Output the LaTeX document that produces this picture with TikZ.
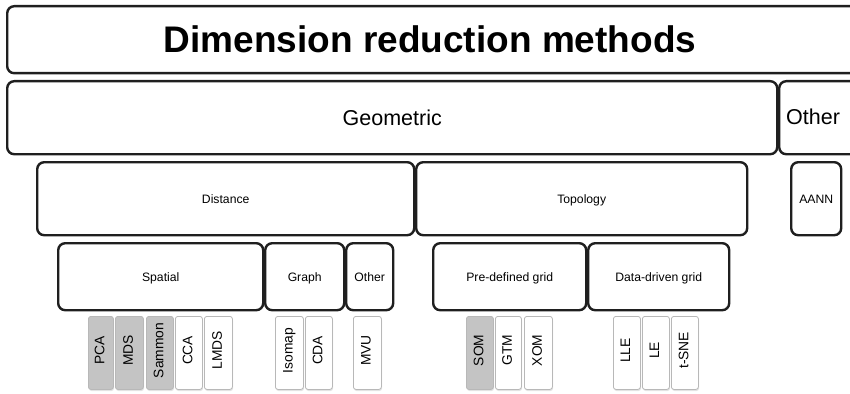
\documentclass[tikz,border=0pt]{standalone}
\usepackage{fontspec}
\setmainfont{Liberation Sans}
\usetikzlibrary{shadows}
\tikzset{
  bigbox/.style={draw=black!88, line width=2.4pt, rounded corners=7pt, fill=white,
    anchor=north west, inner sep=0pt, align=center, text depth=0pt},
  meth/.style={draw=black!28, line width=0.8pt, rounded corners=2.5pt, fill=white,
    anchor=north west, inner sep=0pt, minimum height=73pt,
    drop shadow={opacity=0.22, shadow xshift=0.6pt, shadow yshift=-1.6pt},
    font=\fontsize{13.8}{15}\selectfont},
  methg/.style={meth, fill=black!23},
  lvlA/.style={font=\fontsize{21.5}{24}\selectfont, text height=15.4pt, text depth=0pt},
  lvlB/.style={font=\fontsize{12.2}{14}\selectfont, text height=8.8pt, text depth=0pt},
}
\newcommand{\vt}[1]{\rotatebox{90}{\kern5pt\vphantom{Ap}#1}}
\begin{document}
\begin{tikzpicture}[x=1pt,y=-1pt]
\useasboundingbox (0,0) rectangle (850,393);
\clip (0,0) rectangle (850,393);
% level 0
\node[bigbox, minimum width=870pt, minimum height=67pt] (title) at (6,5) {};
\node[font=\fontsize{37}{40}\selectfont\bfseries] (titletext) at (430,39) {Dimension reduction methods};
% level 1
\node[bigbox, lvlA, minimum width=770pt, minimum height=73pt] (geom) at (6,80) {Geometric};
\node[bigbox, minimum width=90pt, minimum height=73pt] (other) at (778,80) {};
\node[lvlA, anchor=west, inner sep=0pt] (othertext) at (786,116.5) {Other};
% level 2
\node[bigbox, lvlB, minimum width=377pt, minimum height=73pt] (dist) at (36,161) {Distance};
\node[bigbox, lvlB, minimum width=331pt, minimum height=73pt] (topo) at (415,161) {Topology};
\node[bigbox, lvlB, minimum width=50pt, minimum height=73pt] (aann) at (790,161) {AANN};
% level 3
\node[bigbox, lvlB, minimum width=205pt, minimum height=67pt] (spat) at (57,242) {Spatial};
\node[bigbox, lvlB, minimum width=79pt, minimum height=67pt] (graph) at (264,242) {Graph};
\node[bigbox, lvlB, minimum width=47pt, minimum height=67pt] (oth) at (345,242) {Other};
\node[bigbox, lvlB, minimum width=153pt, minimum height=67pt] (pre) at (432,242) {Pre-defined grid};
\node[bigbox, lvlB, minimum width=141pt, minimum height=67pt] (data) at (587,242) {Data-driven grid};
% level 4
\node[methg, minimum width=25pt] (pca) at (88,316) {\vt{PCA}};
\node[methg, minimum width=28pt] (mds) at (115,316) {\vt{MDS}};
\node[methg, minimum width=27pt] (sam) at (146,316) {\vt{Sammon}};
\node[meth, minimum width=27pt] (cca) at (175,316) {\vt{CCA}};
\node[meth, minimum width=28pt] (lmds) at (204,316) {\vt{LMDS}};
\node[meth, minimum width=28pt] (iso) at (275,316) {\vt{Isomap}};
\node[meth, minimum width=27pt] (cda) at (305,316) {\vt{CDA}};
\node[meth, minimum width=28pt] (mvu) at (353,316) {\vt{MVU}};
\node[methg, minimum width=27pt] (som) at (466,316) {\vt{SOM}};
\node[meth, minimum width=26pt] (gtm) at (495,316) {\vt{GTM}};
\node[meth, minimum width=28pt] (xom) at (524,316) {\vt{XOM}};
\node[meth, minimum width=27pt] (lle) at (613,316) {\vt{LLE}};
\node[meth, minimum width=27pt] (le) at (642,316) {\vt{LE}};
\node[meth, minimum width=27pt] (tsne) at (671,316) {\vt{t-SNE}};
\end{tikzpicture}
\end{document}
